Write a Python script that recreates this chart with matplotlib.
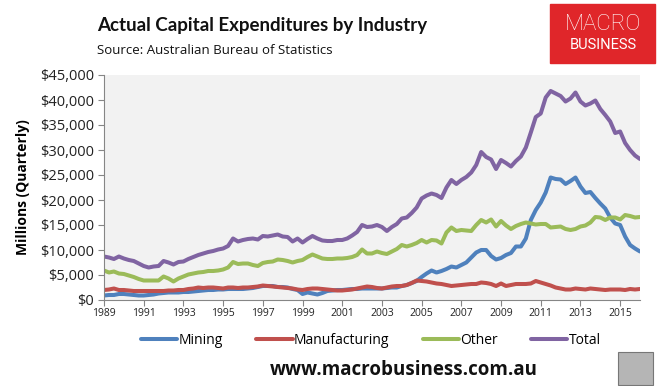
import numpy as np
import matplotlib
matplotlib.use("Agg")
import matplotlib.pyplot as plt
from matplotlib.patches import Rectangle
from matplotlib.ticker import FuncFormatter, MultipleLocator

# quarterly capex, $ billions (1989 Q1 .. 2016 Q1)
mining = [
    0.9, 1.0, 1.0, 1.2,  1.2, 1.1, 1.0, 0.9,  0.9, 1.0, 1.1, 1.3,  1.4, 1.5, 1.5, 1.5,
    1.6, 1.6, 1.7, 1.8,  1.9, 2.0, 2.0, 2.1,  2.1, 2.2, 2.2, 2.2,  2.2, 2.3, 2.4, 2.6,
    2.8, 2.8, 2.8, 2.6,  2.6, 2.5, 2.2, 2.0,  1.2, 1.5, 1.3, 1.1,  1.4, 1.8, 1.9, 2.0,
    2.0, 2.1, 2.2, 2.2,  2.3, 2.3, 2.3, 2.3,  2.3, 2.4, 2.5, 2.5,  2.8, 3.0, 3.4, 3.8,
    4.6, 5.3, 5.9, 5.5,  5.8, 6.2, 6.7, 6.5,  7.0, 7.5, 8.5, 9.5,  10.0, 10.0, 8.8, 8.1,
    8.4, 9.0, 9.4, 10.7,  10.7, 12.3, 16.0, 18.0,  19.5, 21.5, 24.5, 24.2,
    24.1, 23.2, 23.8, 24.5,  22.7, 21.4, 21.6, 20.4,  19.3, 18.3, 16.5, 15.3,
    15.0, 12.7, 11.0, 10.3,  9.7,
]
manufacturing = [
    2.0, 2.1, 2.3, 2.0,  2.0, 1.9, 1.8, 1.8,  1.8, 1.8, 1.8, 1.8,  1.8, 1.9, 1.9, 2.0,
    2.0, 2.2, 2.3, 2.5,  2.4, 2.5, 2.5, 2.4,  2.3, 2.5, 2.5, 2.4,  2.5, 2.5, 2.6, 2.7,
    2.9, 2.8, 2.7, 2.6,  2.5, 2.4, 2.3, 2.1,  2.0, 2.2, 2.3, 2.3,  2.2, 2.1, 2.0, 1.9,
    1.9, 2.0, 2.1, 2.3,  2.5, 2.7, 2.6, 2.4,  2.3, 2.5, 2.7, 2.8,  2.8, 3.0, 3.4, 3.9,
    3.8, 3.7, 3.5, 3.3,  3.2, 3.0, 2.8, 2.9,  3.0, 3.1, 3.2, 3.2,  3.5, 3.4, 3.2, 2.8,
    3.3, 2.8, 3.0, 3.2,  3.2, 3.2, 3.3, 3.8,  3.5, 3.2, 2.9, 2.5,
    2.3, 2.1, 2.1, 2.3,  2.2, 2.1, 2.3, 2.2,  2.1, 2.0, 2.1, 2.1,
    2.1, 2.0, 2.2, 2.1,  2.2,
]
other = [
    5.9, 5.5, 5.7, 5.3,  5.2, 4.9, 4.6, 4.2,  3.9, 3.9, 3.9, 3.9,  4.7, 4.3, 3.7, 4.3,
    4.7, 5.1, 5.3, 5.5,  5.6, 5.8, 5.8, 5.9,  6.1, 6.5, 7.6, 7.2,  7.3, 7.3, 7.0, 6.8,
    7.4, 7.6, 7.7, 8.1,  8.0, 7.8, 7.5, 7.8,  8.0, 8.6, 9.1, 8.7,  8.3, 8.2, 8.2, 8.3,
    8.3, 8.4, 8.6, 9.0,  10.1, 9.3, 9.3, 9.7,  9.4, 9.2, 9.7, 10.2,  11.0, 10.7, 11.0, 11.4,
    12.0, 11.5, 12.0, 11.9,  11.3, 13.5, 14.5, 13.8,  14.0, 13.9, 13.8, 15.0,  16.0, 15.5, 16.1, 14.7,
    15.8, 14.9, 14.2, 14.8,  15.2, 15.5, 15.3, 15.1,  15.2, 15.2, 14.5, 14.6,
    14.7, 14.2, 14.0, 14.2,  14.7, 14.9, 15.5, 16.6,  16.5, 16.0, 16.5, 16.5,
    16.1, 17.0, 16.8, 16.5,  16.6,
]
total = [
    8.7, 8.5, 8.2, 8.7,  8.3, 8.0, 7.8, 7.3,  6.8, 6.5, 6.7, 6.8,  7.8, 7.5, 7.1, 7.6,
    7.7, 8.2, 8.6, 9.0,  9.3, 9.6, 9.8, 10.1,  10.3, 10.8, 12.3, 11.7,  12.0, 12.2, 12.3, 12.1,
    12.8, 12.7, 12.9, 13.1,  12.7, 12.6, 11.7, 12.3,  11.5, 12.2, 12.8, 12.3,  11.9, 11.8, 11.8, 12.0,
    12.0, 12.3, 12.9, 13.6,  15.0, 14.6, 14.7, 15.0,  14.6, 13.8, 14.6, 15.2,  16.3, 16.5, 17.4, 18.5,
    20.3, 20.9, 21.3, 21.0,  20.4, 22.5, 24.0, 23.2,  24.0, 24.6, 25.5, 27.0,  29.6, 28.6, 28.1, 26.2,
    28.0, 27.4, 26.7, 27.8,  28.7, 30.5, 33.5, 36.6,  37.3, 40.5, 41.8, 41.3,
    40.8, 39.7, 40.3, 41.5,  39.7, 38.9, 39.3, 39.9,  38.2, 37.0, 35.7, 33.4,
    33.7, 31.4, 30.0, 28.9,  28.2,
]
start_year = 1989
year_ticks = list(range(1989, 2016, 2))

series = [
    ("Mining", mining, "#4F81BD"),
    ("Manufacturing", manufacturing, "#C0504D"),
    ("Other", other, "#9BBB59"),
    ("Total", total, "#8064A2"),
]

plt.rcParams["font.family"] = ["Open Sans", "DejaVu Sans"]

fig = plt.figure(figsize=(6.6, 3.86), dpi=100)
ax = fig.add_axes([104 / 660, 1 - 300 / 386, 536 / 660, 225 / 386])
ax.set_facecolor("#F2F2F2")

x = start_year + np.arange(len(total)) * 0.25
for name, vals, col in series:
    ax.plot(x, np.array(vals) * 1000, color=col, lw=2.9, label=name,
            solid_joinstyle="round", solid_capstyle="round")

ax.set_xlim(start_year, x[-1])
ax.set_ylim(0, 45000)
ax.yaxis.set_major_locator(MultipleLocator(5000))
ax.yaxis.set_major_formatter(FuncFormatter(lambda v, p: f"${v:,.0f}"))
ax.set_xticks(year_ticks)
ax.set_xticklabels([str(y) for y in year_ticks])

for s in ["top", "right"]:
    ax.spines[s].set_visible(False)
for s in ["left", "bottom"]:
    ax.spines[s].set_color("#868686")
    ax.spines[s].set_linewidth(0.8)
ax.tick_params(axis="y", direction="out", length=4, color="#868686",
               labelsize=10.5, pad=3, labelcolor="#222222")
ax.tick_params(axis="x", direction="out", length=4, color="#868686",
               labelsize=7.5, pad=2, labelcolor="#222222")
ax.set_ylabel("Millions (Quarterly)", fontsize=10, fontweight="bold", labelpad=7)

# titles
fig.text(97 / 660, 1 - 25 / 386, "Actual Capital Expenditures by Industry",
         fontsize=13.5, fontweight="bold", va="center", ha="left", color="#111111",
         family=["Lato", "DejaVu Sans"])
fig.text(97 / 660, 1 - 51 / 386, "Source: Australian Bureau of Statistics",
         fontsize=9.5, va="center", ha="left", color="#111111")

# logo box
fig.patches.append(Rectangle((550 / 660, 1 - 63 / 386), 105 / 660, 59 / 386,
                             transform=fig.transFigure, color="#E0262A", zorder=0))
fig.text(603 / 660, 1 - 25 / 386, "MACRO", fontsize=16, color="white",
         ha="center", va="center", family=["Roboto", "DejaVu Sans"], fontweight="light")
fig.text(603 / 660, 1 - 45 / 386, "BUSINESS", fontsize=10.5, color="white",
         ha="center", va="center", family=["Roboto", "DejaVu Sans"])

# legend
fig.legend(loc="center", bbox_to_anchor=(371 / 660, 1 - 340 / 386), ncol=4,
           frameon=False, fontsize=10, handlelength=2.6, handletextpad=0.1,
           columnspacing=2.4)

fig.text(404 / 660, 1 - 370 / 386, "www.macrobusiness.com.au", fontsize=13.5,
         fontweight="bold", ha="center", va="center", color="#111111")

# wolf badge placeholder
fig.patches.append(Rectangle((618 / 660, 1 - 385 / 386), 35 / 660, 33 / 386,
                             transform=fig.transFigure, facecolor="#B5B5B5",
                             edgecolor="#777777", lw=0.8, zorder=0))

fig.savefig("out.png", dpi=100)
